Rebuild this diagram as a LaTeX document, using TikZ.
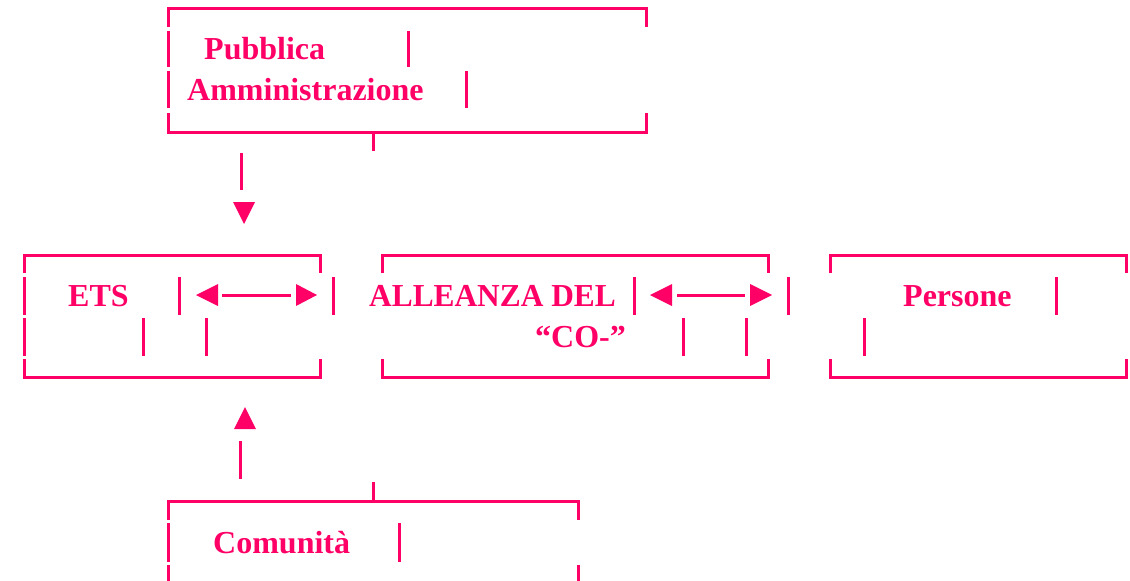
\documentclass[tikz,border=0pt]{standalone}
\usepackage{fontspec}
\setmainfont{Liberation Serif}
\definecolor{pk}{HTML}{FF0066}
\tikzset{
  seg/.style={draw=pk,line width=3pt},
  lbl/.style={text=pk,font=\fontsize{32}{38}\selectfont\bfseries,inner sep=0pt,anchor=base west},
  tri/.style={fill=pk,draw=none},
}
\begin{document}
\begin{tikzpicture}[x=1pt,y=-1pt]
\useasboundingbox (0,0) rectangle (1130,581);
% ---------- Pubblica Amministrazione ----------
\draw[seg] (168,27) -- (168,8) -- (646,8) -- (646,27);
\draw[seg] (168,113) -- (168,132) -- (646,132) -- (646,113);
\draw[seg] (373,132) -- (373,151);
\foreach \x/\a/\b in {168/31/67,168/71/108,408/31/67,466/71/108}
  \draw[seg] (\x,\a) -- (\x,\b);
\node[lbl] (pa1) at (204,59) {Pubblica};
\node[lbl] (pa2) at (187,100) {Amministrazione};
% down arrow
\coordinate (d1) at (241,153);
\coordinate (d2) at (241,190);
\draw[seg] (d1) -- (d2);
\fill[tri] (233,202) -- (255,202) -- (244,224) -- cycle;
% ---------- ETS ----------
\draw[seg] (24,273) -- (24,255) -- (320,255) -- (320,273);
\draw[seg] (24,359) -- (24,377) -- (320,377) -- (320,359);
\foreach \x/\a/\b in {24/277/315,24/318/356,179/277/315,333/277/315,143/318/356,206/318/356}
  \draw[seg] (\x,\a) -- (\x,\b);
\node[lbl] (ets) at (68,306) {ETS};
\fill[tri] (196,295) -- (218,284) -- (218,306) -- cycle;
\draw[seg] (222,295) -- (291,295);
\fill[tri] (317,295) -- (296,284) -- (296,306) -- cycle;
% ---------- ALLEANZA ----------
\draw[seg] (382,273) -- (382,255) -- (768,255) -- (768,273);
\draw[seg] (382,359) -- (382,377) -- (768,377) -- (768,359);
\foreach \x/\a/\b in {634/277/315,788/277/315,683/318/356,746/318/356}
  \draw[seg] (\x,\a) -- (\x,\b);
\node[lbl] (all1) at (369,306) {\scalebox{0.98}[1]{ALLEANZA DEL}};
\node[lbl] (all2) at (535,347) {“CO-”};
\fill[tri] (650,295) -- (672,284) -- (672,306) -- cycle;
\draw[seg] (677,295) -- (745,295);
\fill[tri] (772,295) -- (750,284) -- (750,306) -- cycle;
% ---------- Persone ----------
\draw[seg] (830,273) -- (830,255) -- (1126,255) -- (1126,273);
\draw[seg] (830,359) -- (830,377) -- (1126,377) -- (1126,359);
\foreach \x/\a/\b in {1056/277/315,864/318/356}
  \draw[seg] (\x,\a) -- (\x,\b);
\node[lbl] (pers) at (903,306) {Persone};
% up arrow
\fill[tri] (245,407) -- (256,429) -- (234,429) -- cycle;
\coordinate (u1) at (240,441);
\coordinate (u2) at (240,479);
\draw[seg] (u1) -- (u2);
% ---------- Comunita ----------
\draw[seg] (168,520) -- (168,501) -- (578,501) -- (578,520);
\draw[seg] (373,482) -- (373,501);
\foreach \x/\a/\b in {168/523/562,168/565/592,578/565/592,399/523/562}
  \draw[seg] (\x,\a) -- (\x,\b);
\node[lbl] (com) at (213,553) {Comunità};
\end{tikzpicture}
\end{document}
